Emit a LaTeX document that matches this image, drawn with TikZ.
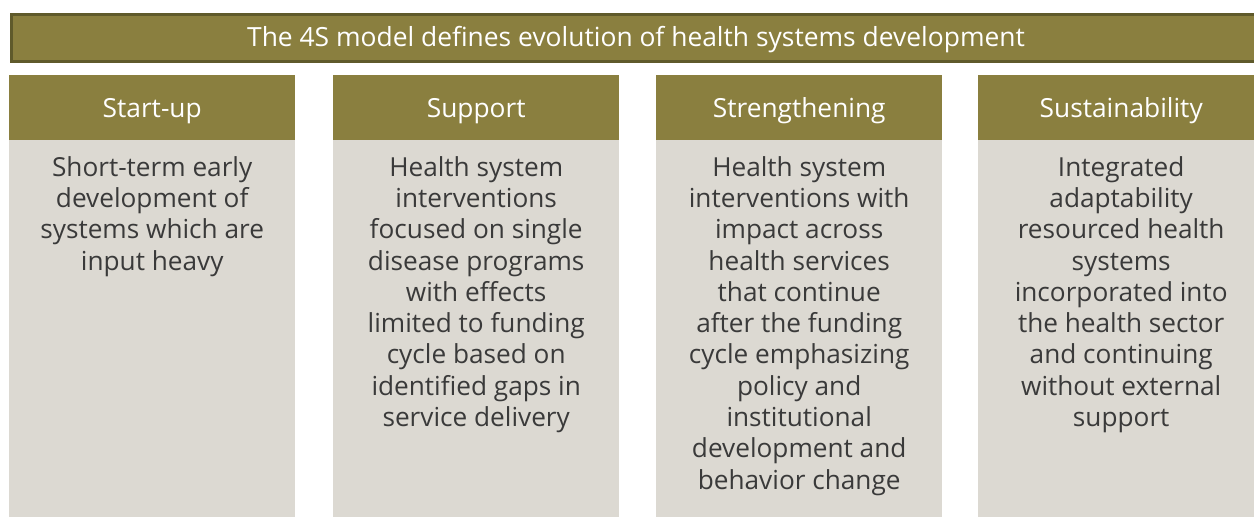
\documentclass[tikz,border=0pt]{standalone}
\usepackage{fontspec}
\setmainfont{Open Sans}
\definecolor{olive}{HTML}{8A7F3F}
\definecolor{olivedark}{HTML}{5F5A2B}
\definecolor{bodygray}{HTML}{DCD9D2}
\definecolor{inkgray}{HTML}{3A3A3A}
\begin{document}
\begin{tikzpicture}[x=1pt,y=-1pt,
  headbox/.style={fill=olive, draw=none, minimum width=286pt, minimum height=65pt, anchor=north west, inner sep=0pt},
  headtext/.style={text=white, inner sep=0pt, font=\fontsize{26.3}{30}\selectfont},
  bodybox/.style={fill=bodygray, draw=none, minimum width=286pt, minimum height=390pt, anchor=north west, inner sep=0pt},
  bodytext/.style={anchor=north, align=center, inner sep=0pt, text=inkgray,
    font=\fontsize{26.2}{31.3}\selectfont},
  titlebar/.style={fill=olive, draw=olivedark, line width=2.5pt, minimum width=1270pt, minimum height=47pt,
    anchor=north west, inner sep=0pt}
]
\useasboundingbox (0,0) rectangle (1254,517);
\clip (0,0) rectangle (1254,517);
% banner across the top
\node[titlebar] (title) at (10,13) {};
\node[text=white, inner sep=0pt, font=\fontsize{26.4}{30}\selectfont] (titletext) at (636,40) {The 4S model defines evolution of health systems development};
% four stages
\foreach \i/\x/\name in {1/9/Start-up, 2/333/Support, 3/656/Strengthening, 4/978/Sustainability}{
  \node[bodybox] (body\i) at (\x,140) {};
  \node[headbox] (head\i) at (\x,75) {};
  \node[headtext] (label\i) at ([yshift=-3pt]head\i.center) {\name};
}
\node[bodytext] (text1) at ([yshift=-16pt]body1.north) {Short-term early\\development of\\systems which are\\input heavy};
\node[bodytext] (text2) at ([yshift=-16pt]body2.north) {Health system\\interventions\\focused on single\\disease programs\\with effects\\limited to funding\\cycle based on\\identified gaps in\\service delivery};
\node[bodytext] (text3) at ([yshift=-16pt]body3.north) {Health system\\interventions with\\impact across\\health services\\that continue\\after the funding\\cycle emphasizing\\policy and\\institutional\\development and\\behavior change};
\node[bodytext] (text4) at ([yshift=-16pt]body4.north) {Integrated\\adaptability\\resourced health\\systems\\incorporated into\\the health sector\\and continuing\\without external\\support};
\end{tikzpicture}
\end{document}
